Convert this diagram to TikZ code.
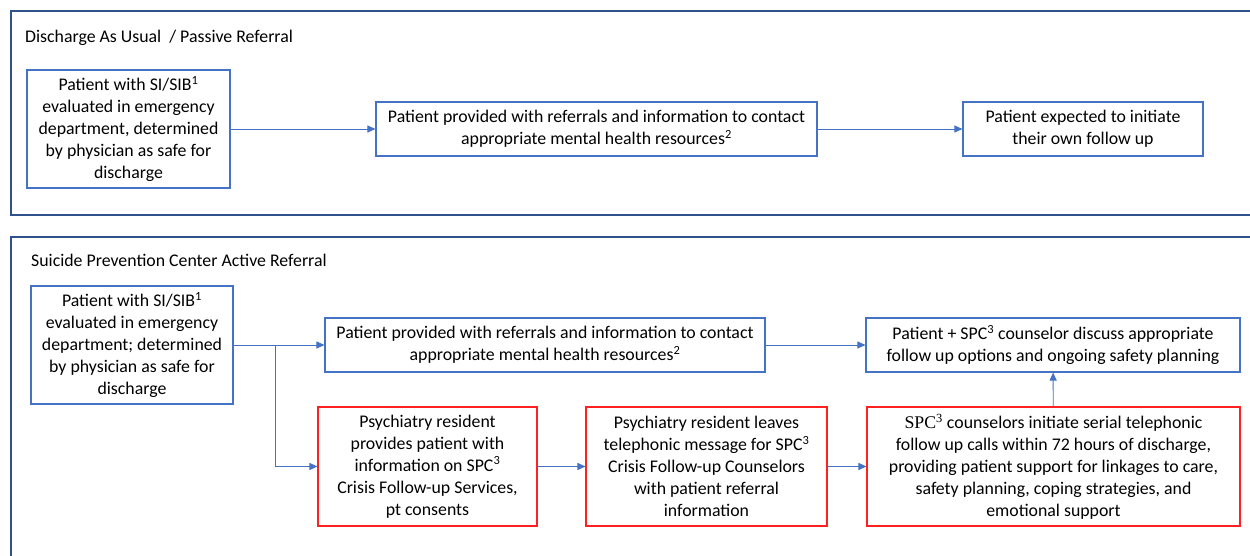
\documentclass[tikz,border=0pt]{standalone}
\usepackage{fontspec}
\setmainfont{Carlito}
\newfontfamily\serifspc{Liberation Serif}
\usetikzlibrary{arrows.meta}
\definecolor{boxblue}{HTML}{4472C4}
\definecolor{frameblue}{HTML}{2F528F}
\definecolor{boxred}{HTML}{FF2020}
\tikzset{
  bluebox/.style={draw=boxblue, line width=1.1pt, align=center, inner sep=0pt, font=\fontsize{17.8}{22}\selectfont},
  redbox/.style={bluebox, draw=boxred},
  arr/.style={draw=boxblue, line width=0.9pt, -{Triangle[length=8pt,width=7pt]}},
  frame/.style={draw=frameblue, line width=1.4pt},
  title/.style={anchor=west, inner sep=0pt, font=\fontsize{17.8}{22}\selectfont}
}
\begin{document}
\begin{tikzpicture}[x=1pt,y=-1pt]
\useasboundingbox (0,0) rectangle (1250,555);
% frames
\draw[frame] (1250,11) -- (11,11) -- (11,215) -- (1250,215);
\draw[frame] (1250,237) -- (11,237) -- (11,556);
\node[title] (t1) at (25,38) {Discharge As Usual \ / Passive Referral};
\node[title] (t2) at (31,260) {Suicide Prevention Center Active Referral};
% top section
\node[bluebox, minimum width=203pt, minimum height=118pt] (A1) at (128.5,129)
  {Patient with SI/SIB\textsuperscript{1}\\evaluated in emergency\\department, determined\\by physician as safe for\\discharge};
\node[bluebox, minimum width=441pt, minimum height=54pt] (A2) at (596.5,129)
  {Patient provided with referrals and information to contact\\appropriate mental health resources\textsuperscript{2}};
\node[bluebox, minimum width=240pt, minimum height=54pt] (A3) at (1083,129)
  {Patient expected to initiate\\their own follow up};
\draw[arr] (A1) -- (A2);
\draw[arr] (A2) -- (A3);
% bottom section
\node[bluebox, minimum width=202pt, minimum height=118pt] (B1) at (132,345)
  {Patient with SI/SIB\textsuperscript{1}\\evaluated in emergency\\department; determined\\by physician as safe for\\discharge};
\node[bluebox, minimum width=440pt, minimum height=54pt] (B2) at (545,345)
  {Patient provided with referrals and information to contact\\appropriate mental health resources\textsuperscript{2}};
\node[bluebox, minimum width=374pt, minimum height=54pt] (B3) at (1053,345)
  {Patient + SPC\textsuperscript{3} counselor discuss appropriate\\follow up options and ongoing safety planning};
\node[redbox, minimum width=219pt, minimum height=119pt] (R1) at (427.5,466.5)
  {Psychiatry resident\\provides patient with\\information on SPC\textsuperscript{3}\\Crisis Follow-up Services,\\pt consents};
\node[redbox, minimum width=241pt, minimum height=119pt] (R2) at (706.5,466.5)
  {Psychiatry resident leaves\\telephonic message for SPC\textsuperscript{3}\\Crisis Follow-up Counselors\\with patient referral\\information};
\node[redbox, minimum width=373pt, minimum height=119pt] (R3) at (1053.5,466.5)
  {{\serifspc SPC\textsuperscript{3}} counselors initiate serial telephonic\\follow up calls within 72 hours of discharge,\\providing patient support for linkages to care,\\safety planning, coping strategies, and\\emotional support};
\coordinate (br) at (275,345);
\draw[arr] (B1) -- (B2);
\draw[arr] (br) |- (R1.west);
\draw[arr] (R1) -- (R2);
\draw[arr] (R2) -- (R3);
\draw[arr] (R3) -- (B3);
\draw[arr] (B2) -- (B3);
\end{tikzpicture}
\end{document}
